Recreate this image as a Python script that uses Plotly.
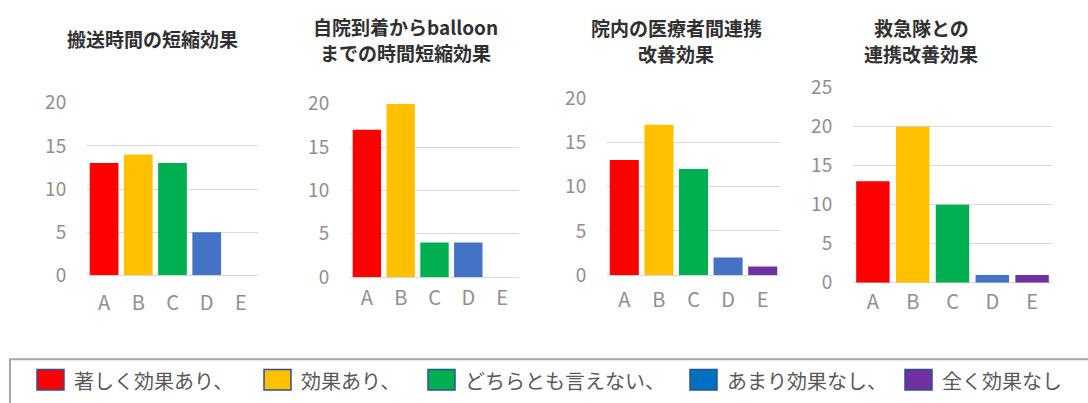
import plotly.graph_objects as go

# ---- data ----
categories = ["A", "B", "C", "D", "E"]
legend_labels = ["著しく効果あり、", "効果あり、", "どちらとも言えない、", "あまり効果なし、", "全く効果なし"]
title_lines = [["搬送時間の短縮効果"],
               ["自院到着からballoon", "までの時間短縮効果"],
               ["院内の医療者間連携", "改善効果"],
               ["救急隊との", "連携改善効果"]]
values_transport = [13, 14, 13, 5, 0]
values_balloon = [17, 20, 4, 4, 0]
values_staff = [13, 17, 12, 2, 1]
values_ems = [13, 20, 10, 1, 1]
y_max = [20, 20, 20, 25]

bar_colors = ["#FF0000", "#FFC000", "#00B050", "#4472C4", "#7030A0"]
legend_colors = ["#FF0000", "#FFC000", "#00B050", "#0070C0", "#7030A0"]

series = [values_transport, values_balloon, values_staff, values_ems]

W, H = 1088, 403
# panel geometry in pixels: (x0, x1, y_top, y_zero, title_center_x, title_center_y, xlabel_gap)
panels = [
    (87, 258, 94, 279, 152, 25, 10),
    (350, 519, 95, 281, 405, 26, 3),
    (607, 780, 89, 279, 676, 27, 7),
    (853, 1052, 78, 287, 921, 27, 1),
]
LINE_STEP = 28

def px_x(x):
    return x / W

def px_y(y):
    return 1 - y / H

fig = go.Figure()
font_family = "Noto Sans CJK JP"
tick_color = "#8F8F8F"
grid_color = "#D9D9D9"

for i, (vals, geo) in enumerate(zip(series, panels)):
    x0, x1, yt, yz, tcx, tcy, xgap = geo
    sfx = "" if i == 0 else str(i + 1)
    fig.add_trace(go.Bar(
        x=categories, y=vals,
        marker=dict(color=bar_colors, line=dict(width=0)),
        xaxis="x" + sfx, yaxis="y" + sfx,
        showlegend=False, hoverinfo="x+y",
    ))
    fig.update_layout(**{
        "xaxis" + sfx: dict(
            domain=[px_x(x0), px_x(x1)], anchor="y" + sfx,
            showgrid=False, showline=False, zeroline=False,
            ticks="outside", ticklen=xgap, tickcolor="rgba(0,0,0,0)",
            tickfont=dict(family=font_family, size=20, color=tick_color),
            fixedrange=True,
        ),
        "yaxis" + sfx: dict(
            domain=[px_y(yz), px_y(yt)], anchor="x" + sfx,
            range=[0, y_max[i]], dtick=5, tick0=0,
            showgrid=True, gridcolor=grid_color, gridwidth=1,
            zeroline=True, zerolinecolor=grid_color, zerolinewidth=1,
            showline=False,
            ticks="outside", ticklen=16, tickcolor="rgba(0,0,0,0)",
            tickfont=dict(family=font_family, size=19, color=tick_color),
            fixedrange=True,
        ),
    })
    lines = title_lines[i]
    n = len(lines)
    for k, line in enumerate(lines):
        cy = tcy + (k - (n - 1) / 2) * LINE_STEP
        fig.add_annotation(
            x=px_x(tcx), y=px_y(cy), xref="paper", yref="paper",
            text="<b>" + line + "</b>", showarrow=False,
            xanchor="center", yanchor="middle", align="center",
            font=dict(family=font_family, size=19, color="#303030"),
        )

# ---- legend (manual, framed) ----
shapes = [dict(type="rect", xref="paper", yref="paper",
               x0=px_x(10), x1=px_x(1100), y0=px_y(460), y1=px_y(369),
               line=dict(color="#A6A6A6", width=2), fillcolor="rgba(0,0,0,0)")]
sq_x = [37, 264, 428, 690, 905]
sq_w, sq_top, sq_bot = 27, 380, 402
for lx, lab, col in zip(sq_x, legend_labels, legend_colors):
    shapes.append(dict(type="rect", xref="paper", yref="paper",
                       x0=px_x(lx), x1=px_x(lx + sq_w), y0=px_y(sq_bot), y1=px_y(sq_top),
                       line=dict(color="#2F528F", width=1.5), fillcolor=col))
    fig.add_annotation(
        x=px_x(lx + sq_w + 8), y=px_y(392), xref="paper", yref="paper",
        text=lab, showarrow=False, xanchor="left", yanchor="middle",
        font=dict(family=font_family, size=20, color="#595959"),
    )

fig.update_layout(
    width=W, height=H,
    margin=dict(l=0, r=0, t=0, b=0),
    paper_bgcolor="white", plot_bgcolor="white",
    bargap=0.16, showlegend=False,
    shapes=shapes,
    font=dict(family=font_family),
)

fig.write_html("out.html", include_plotlyjs=True, config={"displayModeBar": False})
